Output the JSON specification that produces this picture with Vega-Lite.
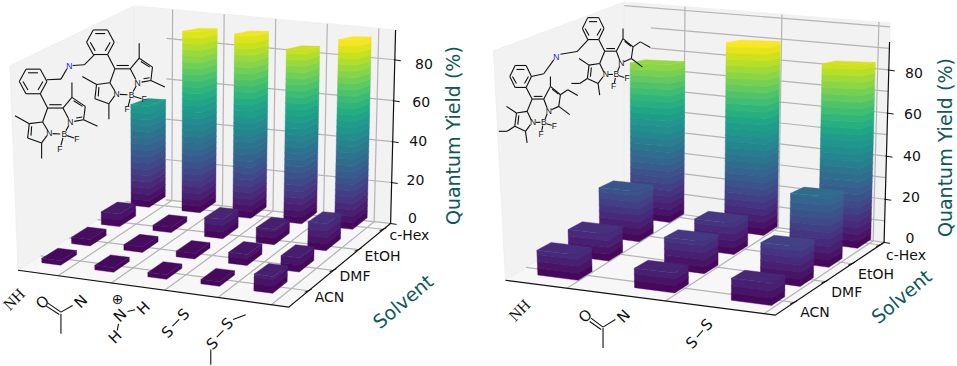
{
"$schema":"https://vega.github.io/schema/vega-lite/v6.json",
"width":957,"height":366,"padding":0,"autosize":{"type":"fit","contains":"padding"},
"background":"white","config":{"view":{"stroke":null}},
"params":[{"name":"G","value":{
"L":{"x":[17,288,390,133],"y":[271,308,224,197],"dx":[-8,7,5,0],"dy":[-205,-213,-194,-191],"zm":94.6,"us":0.125,"u0":0.072,"du":0.197,"v0":0.19,"dv":0.258,"bu":0.035,"bv":0.07,"qmax":90,"lig":["NH","amide","ammonium","disulfide","thioether"],"sol":["ACN","DMF","EtOH","c-Hex"],"vt":[0.196,0.44,0.686,0.93],"lx":6,"ly":7,"zx":22,"zxk":0.09,"zy":-4,"zyk":0.11,"mo":[0,0],"lo":[0,183],"rep":[202,-118],"qtx":453,"qty":136,"stx":403,"sty":303},
"R":{"x":[505,775,884,624],"y":[281,316,243,207],"dx":[-12,5,6,0],"dy":[-230,-241,-220,-205],"zm":101.8,"us":0.1,"u0":0.149,"du":0.36,"v0":0.165,"dv":0.262,"bu":0.075,"bv":0.06,"qmax":89,"lig":["NH","amide","disulfide"],"sol":["ACN","DMF","EtOH","c-Hex"],"vt":[0.174,0.46,0.706,0.963],"lx":6,"ly":11,"zx":26,"zxk":-0.01,"zy":-3,"zyk":0.09,"mo":[480,0],"lo":[480,183],"rep":[218,-144],"qtx":946,"qty":148,"stx":902,"sty":298}
}}],
"datasets":{
"bars":[
{"panel":"L","ligand":"NH","solvent":"c-Hex","qy":49},{"panel":"L","ligand":"amide","solvent":"c-Hex","qy":87},{"panel":"L","ligand":"ammonium","solvent":"c-Hex","qy":88},{"panel":"L","ligand":"disulfide","solvent":"c-Hex","qy":83},{"panel":"L","ligand":"thioether","solvent":"c-Hex","qy":90},
{"panel":"L","ligand":"NH","solvent":"EtOH","qy":6},{"panel":"L","ligand":"amide","solvent":"EtOH","qy":2.5},{"panel":"L","ligand":"ammonium","solvent":"EtOH","qy":9},{"panel":"L","ligand":"disulfide","solvent":"EtOH","qy":7},{"panel":"L","ligand":"thioether","solvent":"EtOH","qy":12.5},
{"panel":"L","ligand":"NH","solvent":"DMF","qy":3},{"panel":"L","ligand":"amide","solvent":"DMF","qy":2.5},{"panel":"L","ligand":"ammonium","solvent":"DMF","qy":2.5},{"panel":"L","ligand":"disulfide","solvent":"DMF","qy":5},{"panel":"L","ligand":"thioether","solvent":"DMF","qy":6.5},
{"panel":"L","ligand":"NH","solvent":"ACN","qy":2},{"panel":"L","ligand":"amide","solvent":"ACN","qy":2},{"panel":"L","ligand":"ammonium","solvent":"ACN","qy":2},{"panel":"L","ligand":"disulfide","solvent":"ACN","qy":2},{"panel":"L","ligand":"thioether","solvent":"ACN","qy":7.5},
{"panel":"R","ligand":"NH","solvent":"c-Hex","qy":75},{"panel":"R","ligand":"amide","solvent":"c-Hex","qy":89},{"panel":"R","ligand":"disulfide","solvent":"c-Hex","qy":83},
{"panel":"R","ligand":"NH","solvent":"EtOH","qy":23},{"panel":"R","ligand":"amide","solvent":"EtOH","qy":14},{"panel":"R","ligand":"disulfide","solvent":"EtOH","qy":31},
{"panel":"R","ligand":"NH","solvent":"DMF","qy":12},{"panel":"R","ligand":"amide","solvent":"DMF","qy":14},{"panel":"R","ligand":"disulfide","solvent":"DMF","qy":17},
{"panel":"R","ligand":"NH","solvent":"ACN","qy":11},{"panel":"R","ligand":"amide","solvent":"ACN","qy":8.5},{"panel":"R","ligand":"disulfide","solvent":"ACN","qy":9.5}
],
"panes":[
{"face":"left","o":0,"u":0,"v":0,"t":0},{"face":"left","o":1,"u":0,"v":1,"t":0},{"face":"left","o":2,"u":0,"v":1,"t":1},{"face":"left","o":3,"u":0,"v":0,"t":1},
{"face":"back","o":0,"u":0,"v":1,"t":0},{"face":"back","o":1,"u":1,"v":1,"t":0},{"face":"back","o":2,"u":1,"v":1,"t":1},{"face":"back","o":3,"u":0,"v":1,"t":1},
{"face":"floor","o":0,"u":0,"v":0,"t":0},{"face":"floor","o":1,"u":1,"v":0,"t":0},{"face":"floor","o":2,"u":1,"v":1,"t":0},{"face":"floor","o":3,"u":0,"v":1,"t":0}
],
"grid":[
{"panel":"L","kind":"u","val":0.148},{"panel":"L","kind":"u","val":0.345},{"panel":"L","kind":"u","val":0.542},{"panel":"L","kind":"u","val":0.739},{"panel":"L","kind":"u","val":0.936},
{"panel":"L","kind":"v","val":0.196},{"panel":"L","kind":"v","val":0.44},{"panel":"L","kind":"v","val":0.686},{"panel":"L","kind":"v","val":0.93},
{"panel":"L","kind":"z","val":0},{"panel":"L","kind":"z","val":20},{"panel":"L","kind":"z","val":40},{"panel":"L","kind":"z","val":60},{"panel":"L","kind":"z","val":80},
{"panel":"R","kind":"u","val":0.228},{"panel":"R","kind":"u","val":0.593},{"panel":"R","kind":"u","val":0.958},
{"panel":"R","kind":"v","val":0.174},{"panel":"R","kind":"v","val":0.46},{"panel":"R","kind":"v","val":0.706},{"panel":"R","kind":"v","val":0.963},
{"panel":"R","kind":"z","val":0},{"panel":"R","kind":"z","val":10},{"panel":"R","kind":"z","val":20},{"panel":"R","kind":"z","val":30},{"panel":"R","kind":"z","val":40},{"panel":"R","kind":"z","val":50},{"panel":"R","kind":"z","val":60},{"panel":"R","kind":"z","val":70},{"panel":"R","kind":"z","val":80},{"panel":"R","kind":"z","val":90},{"panel":"R","kind":"z","val":100}
],
"axes":[
{"panel":"L","id":"x","o":0,"u":0,"v":0,"z":0},{"panel":"L","id":"x","o":1,"u":1,"v":0,"z":0},{"panel":"L","id":"x","o":2,"u":1,"v":1,"z":0},{"panel":"L","id":"x","o":3,"u":1,"v":1,"z":94.6},
{"panel":"R","id":"x","o":0,"u":0,"v":0,"z":0},{"panel":"R","id":"x","o":1,"u":1,"v":0,"z":0},{"panel":"R","id":"x","o":2,"u":1,"v":1,"z":0},{"panel":"R","id":"x","o":3,"u":1,"v":1,"z":93}
],
"zticks":[
{"panel":"L","z":0},{"panel":"L","z":20},{"panel":"L","z":40},{"panel":"L","z":60},{"panel":"L","z":80},
{"panel":"R","z":0},{"panel":"R","z":20},{"panel":"R","z":40},{"panel":"R","z":60},{"panel":"R","z":80}
],
"sticks":[
{"panel":"L","solvent":"ACN"},{"panel":"L","solvent":"DMF"},{"panel":"L","solvent":"EtOH"},{"panel":"L","solvent":"c-Hex"},
{"panel":"R","solvent":"ACN"},{"panel":"R","solvent":"DMF"},{"panel":"R","solvent":"EtOH"},{"panel":"R","solvent":"c-Hex"}
],
"bonds":[
{"panel":"L","o":"m","r":1,"x0":55,"y0":245,"x1":75,"y1":208},{"panel":"L","o":"m","r":1,"x0":75,"y0":208,"x1":118,"y1":208},{"panel":"L","o":"m","r":1,"x0":118,"y0":208,"x1":138,"y1":245},{"panel":"L","o":"m","r":1,"x0":138,"y0":245,"x1":118,"y1":282},{"panel":"L","o":"m","r":1,"x0":118,"y0":282,"x1":75,"y1":282},{"panel":"L","o":"m","r":1,"x0":75,"y0":282,"x1":55,"y1":245},
{"panel":"L","o":"m","r":1,"x0":81,"y0":219,"x1":111,"y1":219},{"panel":"L","o":"m","r":1,"x0":126,"y0":245,"x1":111,"y1":271},{"panel":"L","o":"m","r":1,"x0":81,"y0":271,"x1":66,"y1":245},
{"panel":"L","o":"m","r":1,"x0":118,"y0":282,"x1":140,"y1":325},{"panel":"L","o":"m","r":1,"x0":140,"y0":325,"x1":186,"y1":325},{"panel":"L","o":"m","r":1,"x0":145,"y0":315,"x1":182,"y1":315},{"panel":"L","o":"m","r":1,"x0":140,"y0":325,"x1":125,"y1":367},{"panel":"L","o":"m","r":1,"x0":125,"y0":367,"x1":85,"y1":372},{"panel":"L","o":"m","r":1,"x0":85,"y0":372,"x1":80,"y1":415},{"panel":"L","o":"m","r":1,"x0":92,"y0":380,"x1":90,"y1":408},{"panel":"L","o":"m","r":1,"x0":80,"y0":415,"x1":122,"y1":430},{"panel":"L","o":"m","r":1,"x0":122,"y0":430,"x1":138,"y1":408},{"panel":"L","o":"m","r":1,"x0":125,"y0":367,"x1":140,"y1":392},{"panel":"L","o":"m","r":1,"x0":85,"y0":372,"x1":42,"y1":348},{"panel":"L","o":"m","r":1,"x0":122,"y0":430,"x1":122,"y1":477},
{"panel":"L","o":"m","r":1,"x0":155,"y0":402,"x1":178,"y1":403},{"panel":"L","o":"m","r":1,"x0":198,"y0":408,"x1":220,"y1":415},{"panel":"L","o":"m","r":1,"x0":186,"y0":415,"x1":180,"y1":437},{"panel":"L","o":"m","r":1,"x0":195,"y0":393,"x1":204,"y1":377},
{"panel":"L","o":"m","r":1,"x0":186,"y0":325,"x1":213,"y1":293},{"panel":"L","o":"m","r":1,"x0":213,"y0":293,"x1":253,"y1":320},{"panel":"L","o":"m","r":1,"x0":253,"y0":320,"x1":248,"y1":360},{"panel":"L","o":"m","r":1,"x0":248,"y0":360,"x1":220,"y1":365},{"panel":"L","o":"m","r":1,"x0":226,"y0":355,"x1":244,"y1":352},{"panel":"L","o":"m","r":1,"x0":186,"y0":325,"x1":203,"y1":357},{"panel":"L","o":"m","r":1,"x0":213,"y0":293,"x1":213,"y1":248},{"panel":"L","o":"m","r":1,"x0":248,"y0":360,"x1":290,"y1":380},{"panel":"L","o":"m","r":1,"x0":218,"y0":303,"x1":245,"y1":320},
{"panel":"L","o":"m","r":0,"x0":138,"y0":240,"x1":180,"y1":238},{"panel":"L","o":"m","r":0,"x0":180,"y0":238,"x1":198,"y1":207},{"panel":"L","o":"m","r":0,"x0":280,"y0":165,"x1":250,"y1":195},{"panel":"L","o":"m","r":0,"x0":250,"y0":195,"x1":215,"y1":197},
{"panel":"R","o":"m","r":1,"x0":88,"y0":230,"x1":104,"y1":197},{"panel":"R","o":"m","r":1,"x0":104,"y0":197,"x1":137,"y1":197},{"panel":"R","o":"m","r":1,"x0":137,"y0":197,"x1":153,"y1":230},{"panel":"R","o":"m","r":1,"x0":153,"y0":230,"x1":137,"y1":263},{"panel":"R","o":"m","r":1,"x0":137,"y0":263,"x1":104,"y1":263},{"panel":"R","o":"m","r":1,"x0":104,"y0":263,"x1":88,"y1":230},
{"panel":"R","o":"m","r":1,"x0":108,"y0":209,"x1":132,"y1":209},{"panel":"R","o":"m","r":1,"x0":144,"y0":230,"x1":132,"y1":251},{"panel":"R","o":"m","r":1,"x0":108,"y0":251,"x1":96,"y1":230},
{"panel":"R","o":"m","r":1,"x0":137,"y0":263,"x1":155,"y1":298},{"panel":"R","o":"m","r":1,"x0":155,"y0":298,"x1":190,"y1":298},{"panel":"R","o":"m","r":1,"x0":160,"y0":290,"x1":186,"y1":290},{"panel":"R","o":"m","r":1,"x0":155,"y0":298,"x1":140,"y1":335},{"panel":"R","o":"m","r":1,"x0":140,"y0":335,"x1":108,"y1":340},{"panel":"R","o":"m","r":1,"x0":108,"y0":340,"x1":103,"y1":380},{"panel":"R","o":"m","r":1,"x0":115,"y0":347,"x1":112,"y1":375},{"panel":"R","o":"m","r":1,"x0":103,"y0":380,"x1":135,"y1":395},{"panel":"R","o":"m","r":1,"x0":135,"y0":395,"x1":150,"y1":375},{"panel":"R","o":"m","r":1,"x0":140,"y0":335,"x1":152,"y1":360},
{"panel":"R","o":"m","r":1,"x0":108,"y0":340,"x1":78,"y1":320},{"panel":"R","o":"m","r":1,"x0":135,"y0":395,"x1":140,"y1":430},{"panel":"R","o":"m","r":1,"x0":103,"y0":380,"x1":80,"y1":395},{"panel":"R","o":"m","r":1,"x0":80,"y0":395,"x1":55,"y1":395},
{"panel":"R","o":"m","r":1,"x0":166,"y0":368,"x1":180,"y1":368},{"panel":"R","o":"m","r":1,"x0":198,"y0":372,"x1":214,"y1":377},{"panel":"R","o":"m","r":1,"x0":187,"y0":378,"x1":184,"y1":393},{"panel":"R","o":"m","r":1,"x0":194,"y0":358,"x1":200,"y1":343},
{"panel":"R","o":"m","r":1,"x0":190,"y0":298,"x1":210,"y1":260},{"panel":"R","o":"m","r":1,"x0":210,"y0":260,"x1":240,"y1":285},{"panel":"R","o":"m","r":1,"x0":240,"y0":285,"x1":235,"y1":320},{"panel":"R","o":"m","r":1,"x0":235,"y0":320,"x1":213,"y1":330},{"panel":"R","o":"m","r":1,"x0":215,"y0":268,"x1":234,"y1":283},{"panel":"R","o":"m","r":1,"x0":190,"y0":298,"x1":200,"y1":325},
{"panel":"R","o":"m","r":1,"x0":210,"y0":260,"x1":210,"y1":230},{"panel":"R","o":"m","r":1,"x0":235,"y0":320,"x1":268,"y1":345},{"panel":"R","o":"m","r":1,"x0":240,"y0":285,"x1":262,"y1":270},{"panel":"R","o":"m","r":1,"x0":262,"y0":270,"x1":292,"y1":287},
{"panel":"R","o":"m","r":0,"x0":153,"y0":230,"x1":190,"y1":222},{"panel":"R","o":"m","r":0,"x0":190,"y0":222,"x1":220,"y1":180},{"panel":"R","o":"m","r":0,"x0":325,"y0":118,"x1":290,"y1":155},{"panel":"R","o":"m","r":0,"x0":290,"y0":155,"x1":240,"y1":163},
{"panel":"L","o":"l","r":0,"x0":140,"y0":362,"x1":180,"y1":390},{"panel":"L","o":"l","r":0,"x0":136,"y0":372,"x1":175,"y1":397},{"panel":"L","o":"l","r":0,"x0":180,"y0":390,"x1":215,"y1":370},{"panel":"L","o":"l","r":0,"x0":180,"y0":395,"x1":180,"y1":455},{"panel":"L","o":"l","r":0,"x0":349,"y0":445,"x1":353,"y1":425},{"panel":"L","o":"l","r":0,"x0":380,"y0":388,"x1":403,"y1":383},{"panel":"L","o":"l","r":0,"x0":515,"y0":432,"x1":535,"y1":412},{"panel":"L","o":"l","r":0,"x0":648,"y0":465,"x1":668,"y1":445},{"panel":"L","o":"l","r":0,"x0":630,"y0":502,"x1":630,"y1":548},{"panel":"L","o":"l","r":0,"x0":697,"y0":412,"x1":735,"y1":398},
{"panel":"R","o":"l","r":0,"x0":332,"y0":408,"x1":368,"y1":435},{"panel":"R","o":"l","r":0,"x0":328,"y0":418,"x1":362,"y1":442},{"panel":"R","o":"l","r":0,"x0":368,"y0":435,"x1":405,"y1":412},{"panel":"R","o":"l","r":0,"x0":368,"y0":438,"x1":368,"y1":498},{"panel":"R","o":"l","r":0,"x0":650,"y0":465,"x1":668,"y1":445}
],
"atoms":[
{"panel":"L","r":1,"t":"N","x":145,"y":400},{"panel":"L","r":1,"t":"B","x":190,"y":403},{"panel":"L","r":1,"t":"N","x":208,"y":367},{"panel":"L","r":1,"t":"F","x":228,"y":417},{"panel":"L","r":1,"t":"F","x":177,"y":447},{"panel":"L","r":0,"t":"N","x":205,"y":200,"blue":true},
{"panel":"R","r":1,"t":"N","x":158,"y":368},{"panel":"R","r":1,"t":"B","x":190,"y":368},{"panel":"R","r":1,"t":"N","x":205,"y":333},{"panel":"R","r":1,"t":"F","x":222,"y":378},{"panel":"R","r":1,"t":"F","x":182,"y":403},{"panel":"R","r":0,"t":"N","x":228,"y":172,"blue":true}
],
"glyphs":[
{"panel":"L","t":"O","x":125,"y":360},{"panel":"L","t":"N","x":240,"y":358},{"panel":"L","t":"H","x":343,"y":465},{"panel":"L","t":"N","x":358,"y":400},{"panel":"L","t":"H","x":428,"y":378},{"panel":"L","t":"S","x":500,"y":450},{"panel":"L","t":"S","x":548,"y":397},{"panel":"L","t":"S","x":635,"y":485},{"panel":"L","t":"S","x":680,"y":425},
{"panel":"R","t":"O","x":315,"y":402},{"panel":"R","t":"N","x":430,"y":402},{"panel":"R","t":"S","x":635,"y":482},{"panel":"R","t":"S","x":680,"y":428}
],
"nh":[{"panel":"L","t":"NH","x":40,"y":352},{"panel":"R","t":"NH","x":118,"y":385}],
"plus":[{"panel":"L","t":"⊕","x":350,"y":353}],
"titles":[{"panel":"L","t":"Quantum Yield (%)"},{"panel":"R","t":"Quantum Yield (%)"}],
"stitles":[{"panel":"L","t":"Solvent"},{"panel":"R","t":"Solvent"}]
},
"encoding":{
"x":{"field":"sx","type":"quantitative","scale":{"domain":[0,957],"nice":false,"zero":false},"axis":null},
"y":{"field":"sy","type":"quantitative","scale":{"domain":[366,0],"nice":false,"zero":false},"axis":null}
},
"layer":[
{"data":{"name":"panes"},
"transform":[{"calculate":"['L','R']","as":"panels"},{"flatten":["panels"],"as":["panel"]},
{"calculate":"G[datum.panel]","as":"g"},
{"calculate":"[(1-datum.u)*(1-datum.v),datum.u*(1-datum.v),datum.u*datum.v,(1-datum.u)*datum.v]","as":"w"},
{"calculate":"datum.w[0]*(datum.g.x[0]+datum.g.dx[0]*datum.t)+datum.w[1]*(datum.g.x[1]+datum.g.dx[1]*datum.t)+datum.w[2]*(datum.g.x[2]+datum.g.dx[2]*datum.t)+datum.w[3]*(datum.g.x[3]+datum.g.dx[3]*datum.t)","as":"sx"},
{"calculate":"datum.w[0]*(datum.g.y[0]+datum.g.dy[0]*datum.t)+datum.w[1]*(datum.g.y[1]+datum.g.dy[1]*datum.t)+datum.w[2]*(datum.g.y[2]+datum.g.dy[2]*datum.t)+datum.w[3]*(datum.g.y[3]+datum.g.dy[3]*datum.t)","as":"sy"},
{"calculate":"datum.panel+datum.face","as":"key"}],
"mark":{"type":"line","interpolate":"linear-closed","strokeWidth":0.8,"stroke":"#eeeeee"},
"encoding":{"detail":{"field":"key"},"order":{"field":"o"},
"fill":{"field":"face","type":"nominal","scale":{"domain":["left","back","floor"],"range":["#f2f2f2","#f2f2f2","#f7f7f7"]},"legend":null}}},
{"data":{"name":"grid"},
"transform":[{"calculate":"G[datum.panel]","as":"g"},
{"calculate":"datum.kind=='u'?[0,1,2]:[0,1]","as":"ps"},{"flatten":["ps"],"as":["p"]},
{"calculate":"datum.kind=='u'?datum.val:datum.kind=='v'?(datum.p==0?0:1):(datum.p==0?(datum.val>=100?0:datum.g.us):1)","as":"u"},
{"calculate":"datum.kind=='u'?(datum.p==0?0:1):datum.kind=='v'?datum.val:1","as":"v"},
{"calculate":"(datum.kind=='u'?(datum.p==2?datum.g.zm:0):datum.kind=='v'?0:datum.val)/datum.g.zm","as":"t"},
{"calculate":"[(1-datum.u)*(1-datum.v),datum.u*(1-datum.v),datum.u*datum.v,(1-datum.u)*datum.v]","as":"w"},
{"calculate":"datum.w[0]*(datum.g.x[0]+datum.g.dx[0]*datum.t)+datum.w[1]*(datum.g.x[1]+datum.g.dx[1]*datum.t)+datum.w[2]*(datum.g.x[2]+datum.g.dx[2]*datum.t)+datum.w[3]*(datum.g.x[3]+datum.g.dx[3]*datum.t)","as":"sx"},
{"calculate":"datum.w[0]*(datum.g.y[0]+datum.g.dy[0]*datum.t)+datum.w[1]*(datum.g.y[1]+datum.g.dy[1]*datum.t)+datum.w[2]*(datum.g.y[2]+datum.g.dy[2]*datum.t)+datum.w[3]*(datum.g.y[3]+datum.g.dy[3]*datum.t)","as":"sy"},
{"calculate":"datum.panel+datum.kind+datum.val","as":"key"}],
"mark":{"type":"line","stroke":"#b4b4b4","strokeWidth":1.2},
"encoding":{"detail":{"field":"key"},"order":{"field":"p"}}},
{"data":{"name":"bars"},
"transform":[{"calculate":"G[datum.panel]","as":"g"},
{"calculate":"[0,3,6,9,12,15,18,21,24,27,30,33,36,39,42,45,48,51,54,57,60,63,66,69,72,75,78,81,84,87,90,999]","as":"levels"},
{"flatten":["levels"],"as":["level"]},
{"filter":"datum.level<datum.qy||datum.level==999"},
{"calculate":"[0,1,2,3,4,5]","as":"cs"},{"flatten":["cs"],"as":["c"]},
{"calculate":"datum.g.u0+datum.g.du*indexof(datum.g.lig,datum.ligand)","as":"uc"},
{"calculate":"datum.g.v0+datum.g.dv*indexof(datum.g.sol,datum.solvent)","as":"vc"},
{"calculate":"datum.uc+datum.g.bu*(datum.level==999?[-1,1,1,-1,-1,-1]:[-1,1,1,1,1,-1])[datum.c]","as":"u"},
{"calculate":"datum.vc+datum.g.bv*(datum.level==999?[-1,-1,1,1,1,1]:[-1,-1,1,1,-1,-1])[datum.c]","as":"v"},
{"calculate":"(datum.level==999?datum.qy:(datum.c<3?min(datum.level+3.2,datum.qy):datum.level))/datum.g.zm","as":"t"},
{"calculate":"[(1-datum.u)*(1-datum.v),datum.u*(1-datum.v),datum.u*datum.v,(1-datum.u)*datum.v]","as":"w"},
{"calculate":"[(1-datum.uc)*(1-datum.vc),datum.uc*(1-datum.vc),datum.uc*datum.vc,(1-datum.uc)*datum.vc]","as":"wc"},
{"calculate":"datum.w[0]*(datum.g.x[0]+datum.g.dx[0]*datum.t)+datum.w[1]*(datum.g.x[1]+datum.g.dx[1]*datum.t)+datum.w[2]*(datum.g.x[2]+datum.g.dx[2]*datum.t)+datum.w[3]*(datum.g.x[3]+datum.g.dx[3]*datum.t)","as":"sx"},
{"calculate":"datum.w[0]*(datum.g.y[0]+datum.g.dy[0]*datum.t)+datum.w[1]*(datum.g.y[1]+datum.g.dy[1]*datum.t)+datum.w[2]*(datum.g.y[2]+datum.g.dy[2]*datum.t)+datum.w[3]*(datum.g.y[3]+datum.g.dy[3]*datum.t)","as":"py"},
{"calculate":"datum.wc[0]*(datum.g.y[0]+datum.g.dy[0]*datum.t)+datum.wc[1]*(datum.g.y[1]+datum.g.dy[1]*datum.t)+datum.wc[2]*(datum.g.y[2]+datum.g.dy[2]*datum.t)+datum.wc[3]*(datum.g.y[3]+datum.g.dy[3]*datum.t)","as":"cy"},
{"calculate":"datum.cy+(datum.py-datum.cy)*(1-0.7*datum.t)","as":"sy"},
{"calculate":"min(datum.level+1.5,datum.qy)/datum.g.qmax","as":"shade"},
{"calculate":"datum.panel+datum.ligand+datum.solvent+datum.level","as":"key"}],
"mark":{"type":"line","interpolate":"linear-closed","strokeWidth":0.4},
"encoding":{"detail":{"field":"key"},"order":{"field":"c"},
"color":{"field":"shade","type":"quantitative","scale":{"scheme":"viridis","domain":[0,1]},"legend":null},
"fill":{"field":"shade","type":"quantitative","scale":{"scheme":"viridis","domain":[0,1]},"legend":null}}},
{"data":{"name":"axes"},
"transform":[{"calculate":"G[datum.panel]","as":"g"},{"calculate":"datum.z/datum.g.zm","as":"t"},
{"calculate":"[(1-datum.u)*(1-datum.v),datum.u*(1-datum.v),datum.u*datum.v,(1-datum.u)*datum.v]","as":"w"},
{"calculate":"datum.w[0]*(datum.g.x[0]+datum.g.dx[0]*datum.t)+datum.w[1]*(datum.g.x[1]+datum.g.dx[1]*datum.t)+datum.w[2]*(datum.g.x[2]+datum.g.dx[2]*datum.t)+datum.w[3]*(datum.g.x[3]+datum.g.dx[3]*datum.t)","as":"sx"},
{"calculate":"datum.w[0]*(datum.g.y[0]+datum.g.dy[0]*datum.t)+datum.w[1]*(datum.g.y[1]+datum.g.dy[1]*datum.t)+datum.w[2]*(datum.g.y[2]+datum.g.dy[2]*datum.t)+datum.w[3]*(datum.g.y[3]+datum.g.dy[3]*datum.t)","as":"sy"}],
"mark":{"type":"line","stroke":"#111111","strokeWidth":1.2},
"encoding":{"detail":{"field":"panel"},"order":{"field":"o"}}},
{"data":{"name":"zticks"},
"transform":[{"calculate":"G[datum.panel]","as":"g"},{"calculate":"datum.z/datum.g.zm","as":"t"},
{"calculate":"datum.g.x[2]+datum.g.dx[2]*datum.t-1","as":"sx"},{"calculate":"datum.g.y[2]+datum.g.dy[2]*datum.t","as":"sy"},
{"calculate":"datum.sx+7","as":"sx2"},{"calculate":"datum.sy+1","as":"sy2"}],
"mark":{"type":"rule","stroke":"#111111","strokeWidth":1},
"encoding":{"x2":{"field":"sx2"},"y2":{"field":"sy2"}}},
{"data":{"name":"zticks"},
"transform":[{"calculate":"G[datum.panel]","as":"g"},{"calculate":"datum.z/datum.g.zm","as":"t"},
{"calculate":"datum.g.x[2]+datum.g.dx[2]*datum.t+datum.g.zx+datum.g.zxk*datum.z","as":"sx"},{"calculate":"datum.g.y[2]+datum.g.dy[2]*datum.t+datum.g.zy+datum.g.zyk*datum.z","as":"sy"}],
"mark":{"type":"text","font":"DejaVu Sans","fontSize":14,"align":"center","baseline":"middle","fill":"#111111"},
"encoding":{"text":{"field":"z","type":"quantitative"}}},
{"data":{"name":"sticks"},
"transform":[{"calculate":"G[datum.panel]","as":"g"},{"calculate":"datum.g.vt[indexof(datum.g.sol,datum.solvent)]","as":"v"},
{"calculate":"datum.g.x[1]+(datum.g.x[2]-datum.g.x[1])*datum.v-4","as":"sx"},{"calculate":"datum.g.y[1]+(datum.g.y[2]-datum.g.y[1])*datum.v+1.5","as":"sy"},
{"calculate":"datum.sx+7","as":"sx2"},{"calculate":"datum.sy-3","as":"sy2"}],
"mark":{"type":"rule","stroke":"#111111","strokeWidth":1},
"encoding":{"x2":{"field":"sx2"},"y2":{"field":"sy2"}}},
{"data":{"name":"sticks"},
"transform":[{"calculate":"G[datum.panel]","as":"g"},{"calculate":"datum.g.vt[indexof(datum.g.sol,datum.solvent)]","as":"v"},
{"calculate":"datum.g.x[1]+(datum.g.x[2]-datum.g.x[1])*datum.v+datum.g.lx","as":"sx"},{"calculate":"datum.g.y[1]+(datum.g.y[2]-datum.g.y[1])*datum.v+datum.g.ly","as":"sy"}],
"mark":{"type":"text","font":"DejaVu Sans","fontSize":14,"align":"left","baseline":"middle","fill":"#111111"},
"encoding":{"text":{"field":"solvent","type":"nominal"}}},
{"data":{"name":"titles"},
"transform":[{"calculate":"G[datum.panel].qtx","as":"sx"},{"calculate":"G[datum.panel].qty","as":"sy"}],
"mark":{"type":"text","font":"DejaVu Sans","fontSize":19,"angle":270,"align":"center","baseline":"middle","fill":"#0e5a5a"},
"encoding":{"text":{"field":"t","type":"nominal"}}},
{"data":{"name":"stitles"},
"transform":[{"calculate":"G[datum.panel].stx","as":"sx"},{"calculate":"G[datum.panel].sty","as":"sy"}],
"mark":{"type":"text","font":"DejaVu Sans","fontSize":19,"angle":320,"align":"center","baseline":"middle","fill":"#0e5a5a"},
"encoding":{"text":{"field":"t","type":"nominal"}}},
{"data":{"name":"bonds"},
"transform":[{"calculate":"G[datum.panel]","as":"g"},{"calculate":"datum.r?[0,1]:[0]","as":"insts"},{"flatten":["insts"],"as":["inst"]},
{"calculate":"datum.o=='m'?datum.g.mo:datum.g.lo","as":"org"},
{"calculate":"datum.org[0]+(datum.x0+datum.inst*datum.g.rep[0])/3","as":"sx"},{"calculate":"datum.org[1]+(datum.y0+datum.inst*datum.g.rep[1])/3","as":"sy"},
{"calculate":"datum.org[0]+(datum.x1+datum.inst*datum.g.rep[0])/3","as":"sx2"},{"calculate":"datum.org[1]+(datum.y1+datum.inst*datum.g.rep[1])/3","as":"sy2"}],
"mark":{"type":"rule","stroke":"#111111","strokeWidth":1.1},
"encoding":{"x2":{"field":"sx2"},"y2":{"field":"sy2"}}},
{"data":{"name":"atoms"},
"transform":[{"calculate":"G[datum.panel]","as":"g"},{"calculate":"datum.r?[0,1]:[0]","as":"insts"},{"flatten":["insts"],"as":["inst"]},
{"calculate":"datum.g.mo[0]+(datum.x+datum.inst*datum.g.rep[0])/3","as":"sx"},{"calculate":"datum.g.mo[1]+(datum.y+datum.inst*datum.g.rep[1])/3","as":"sy"}],
"mark":{"type":"text","font":"Liberation Sans","fontSize":8.5,"align":"center","baseline":"middle"},
"encoding":{"text":{"field":"t","type":"nominal"},"color":{"condition":{"test":"datum.blue","value":"#2020e0"},"value":"#111111"}}},
{"data":{"name":"glyphs"},
"transform":[{"calculate":"G[datum.panel].lo[0]+datum.x/3","as":"sx"},{"calculate":"G[datum.panel].lo[1]+datum.y/3","as":"sy"}],
"mark":{"type":"text","font":"DejaVu Sans","fontSize":15,"angle":315,"align":"center","baseline":"middle","fill":"#111111"},
"encoding":{"text":{"field":"t","type":"nominal"}}},
{"data":{"name":"nh"},
"transform":[{"calculate":"G[datum.panel].lo[0]+datum.x/3","as":"sx"},{"calculate":"G[datum.panel].lo[1]+datum.y/3","as":"sy"}],
"mark":{"type":"text","font":"Liberation Serif","fontSize":16,"angle":315,"align":"center","baseline":"middle","fill":"#111111"},
"encoding":{"text":{"field":"t","type":"nominal"}}},
{"data":{"name":"plus"},
"transform":[{"calculate":"G[datum.panel].lo[0]+datum.x/3","as":"sx"},{"calculate":"G[datum.panel].lo[1]+datum.y/3","as":"sy"}],
"mark":{"type":"text","font":"DejaVu Sans","fontSize":14,"align":"center","baseline":"middle","fill":"#111111"},
"encoding":{"text":{"field":"t","type":"nominal"}}}
]
}
